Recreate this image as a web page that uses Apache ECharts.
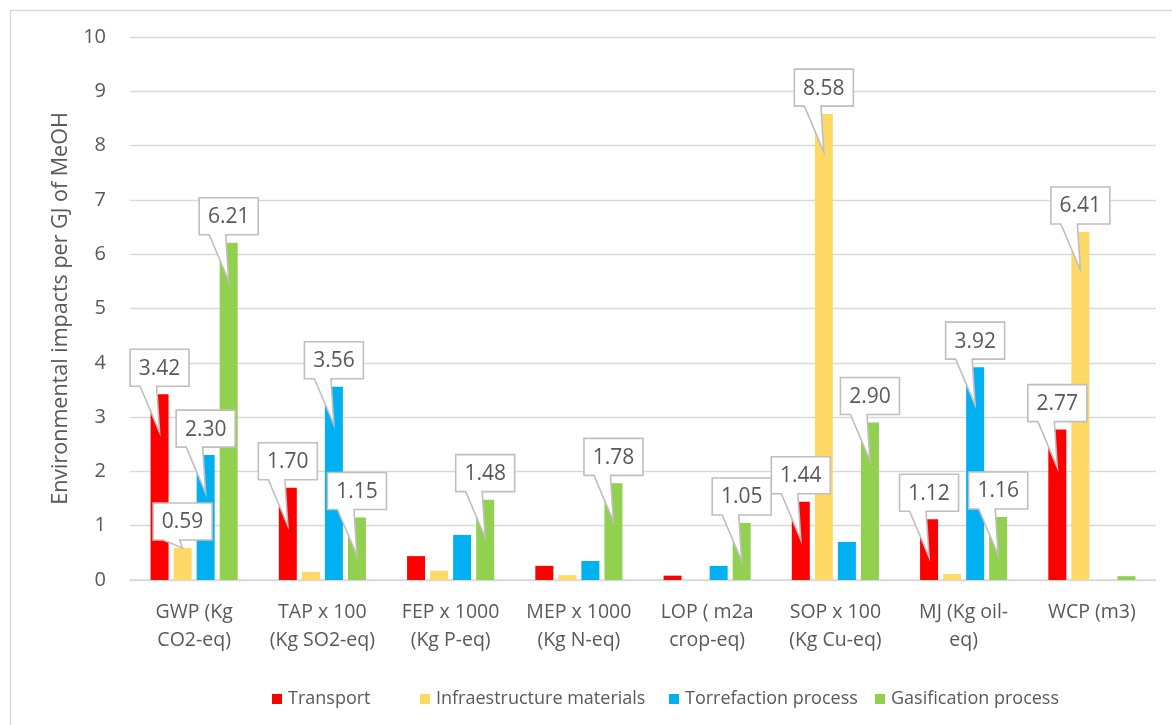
<!DOCTYPE html>
<html>
<head>
<meta charset="utf-8">
<script src="https://cdn.jsdelivr.net/npm/echarts@6/dist/echarts.min.js"></script>
<style>
  html, body { margin: 0; padding: 0; background: #fff; }
  #chart { width: 1172px; height: 725px; }
</style>
</head>
<body>
<div id="chart"></div>
<script>
// Impact categories (x axis)
const categories = [
  'GWP (Kg\nCO2-eq)',
  'TAP x 100\n(Kg SO2-eq)',
  'FEP x 1000\n(Kg P-eq)',
  'MEP x 1000\n(Kg N-eq)',
  'LOP ( m2a\ncrop-eq)',
  'SOP x 100\n(Kg Cu-eq)',
  'MJ (Kg oil-\neq)',
  'WCP (m3)'
];

// Environmental impacts per GJ of MeOH, by life-cycle stage
const transport      = [3.42, 1.70, 0.44, 0.26, 0.08, 1.44, 1.12, 2.77];
const infrastructure = [0.59, 0.15, 0.17, 0.09, 0.00, 8.58, 0.11, 6.41];
const torrefaction   = [2.30, 3.56, 0.83, 0.35, 0.26, 0.70, 3.92, 0.00];
const gasification   = [6.21, 1.15, 1.48, 1.78, 1.05, 2.90, 1.16, 0.07];

// Which points carry a value callout (category indices)
const calloutTransport      = [0, 1, 5, 6, 7];
const calloutInfrastructure = [0, 5, 7];
const calloutTorrefaction   = [0, 1, 6];
const calloutGasification   = [0, 1, 2, 3, 4, 5, 6];

// Y axis ticks
const yMin = 0, yMax = 10, yStep = 1;

const seriesNames = ['Transport', 'Infraestructure materials', 'Torrefaction process', 'Gasification process'];
const seriesColors = ['#FF0000', '#FFD966', '#00B0F0', '#92D050'];
const seriesValues = [transport, infrastructure, torrefaction, gasification];
const seriesCallouts = [calloutTransport, calloutInfrastructure, calloutTorrefaction, calloutGasification];

const FONT = '"Open Sans", "Noto Sans", sans-serif';
const TEXT = '#595959';
const GRID = '#d9d9d9';
const BAR_W = 18;
const BAR_GAP_RATIO = 0.28;
// Left edge of each legend entry
const LEGEND_LEFTS = [267, 415, 664, 870];

// Callout items: [category index, value, series index]
const calloutData = [];
seriesCallouts.forEach((idxs, s) => {
  idxs.forEach(i => calloutData.push([i, seriesValues[s][i], s]));
});

// Speech-bubble label above a bar, its tail pointing into the bar
function renderCallout(params, api) {
  const cat = api.value(0), val = api.value(1), s = api.value(2);
  const base = api.coord([cat, 0]);
  const top = api.coord([cat, val]);
  const gap = BAR_W * BAR_GAP_RATIO;
  const n = seriesValues.length;
  const groupW = n * BAR_W + (n - 1) * gap;
  const cx = base[0] - groupW / 2 + BAR_W / 2 + s * (BAR_W + gap);
  const h = base[1] - top[1];
  const tipY = h > 45 ? top[1] + 38 : top[1];
  const w = 59, bh = 37;
  const B = top[1] - 8, T = B - bh, L = cx - w / 2, R = cx + w / 2;
  const x1 = L + 0.17 * w, x2 = L + 0.45 * w;
  return {
    type: 'group',
    children: [
      {
        type: 'polygon',
        shape: { points: [[L, T], [R, T], [R, B], [x2, B], [cx, tipY], [x1, B], [L, B]] },
        style: { fill: '#ffffff', stroke: '#bfbfbf', lineWidth: 1.6, lineJoin: 'miter' }
      },
      {
        type: 'text',
        style: {
          text: val.toFixed(2), x: cx, y: (T + B) / 2 + 1,
          align: 'center', verticalAlign: 'middle',
          fill: TEXT, font: '21px ' + FONT
        }
      }
    ]
  };
}

const chart = echarts.init(document.getElementById('chart'), null, { renderer: 'canvas' });

const barSeries = seriesNames.map((name, s) => ({
  name: name,
  type: 'bar',
  data: seriesValues[s],
  barWidth: BAR_W,
  barGap: (BAR_GAP_RATIO * 100) + '%',
  itemStyle: { color: seriesColors[s] },
  z: 2
}));

// One legend entry per component so each sits at its own spot
const legends = seriesNames.map((name, s) => ({
  bottom: 12,
  left: LEGEND_LEFTS[s],
  icon: 'rect',
  itemWidth: 10,
  itemHeight: 10,
  data: [name],
  textStyle: { fontFamily: FONT, fontSize: 18, color: TEXT, padding: [0, 0, 0, 1] }
}));

chart.setOption({
  animation: false,
  backgroundColor: '#ffffff',
  textStyle: { fontFamily: FONT, color: TEXT },
  graphic: [{
    type: 'rect',
    left: 8, top: 8,
    shape: { width: 1200, height: 800 },
    style: { fill: 'none', stroke: GRID, lineWidth: 1.3 },
    z: -10
  }],
  grid: { left: 130, right: 16, top: 37, bottom: 145, containLabel: false },
  legend: legends,
  xAxis: {
    type: 'category',
    data: categories,
    axisLine: { lineStyle: { color: GRID, width: 1.5 } },
    axisTick: { show: false },
    axisLabel: {
      interval: 0, margin: 18, color: TEXT, fontFamily: FONT,
      fontSize: 19.5, lineHeight: 28
    }
  },
  yAxis: {
    type: 'value',
    min: yMin, max: yMax, interval: yStep,
    name: 'Environmental impacts per GJ of MeOH',
    nameLocation: 'middle',
    nameGap: 54,
    nameTextStyle: { fontFamily: FONT, fontSize: 21.5, color: TEXT },
    axisLine: { show: false },
    axisTick: { show: false },
    axisLabel: { margin: 24, color: TEXT, fontFamily: FONT, fontSize: 20 },
    splitLine: { lineStyle: { color: GRID, width: 1.3 } }
  },
  series: barSeries.concat([{
    name: 'callouts',
    type: 'custom',
    data: calloutData,
    renderItem: renderCallout,
    clip: false,
    silent: true,
    z: 5,
    encode: { x: 0, y: 1 }
  }])
});
</script>
</body>
</html>
